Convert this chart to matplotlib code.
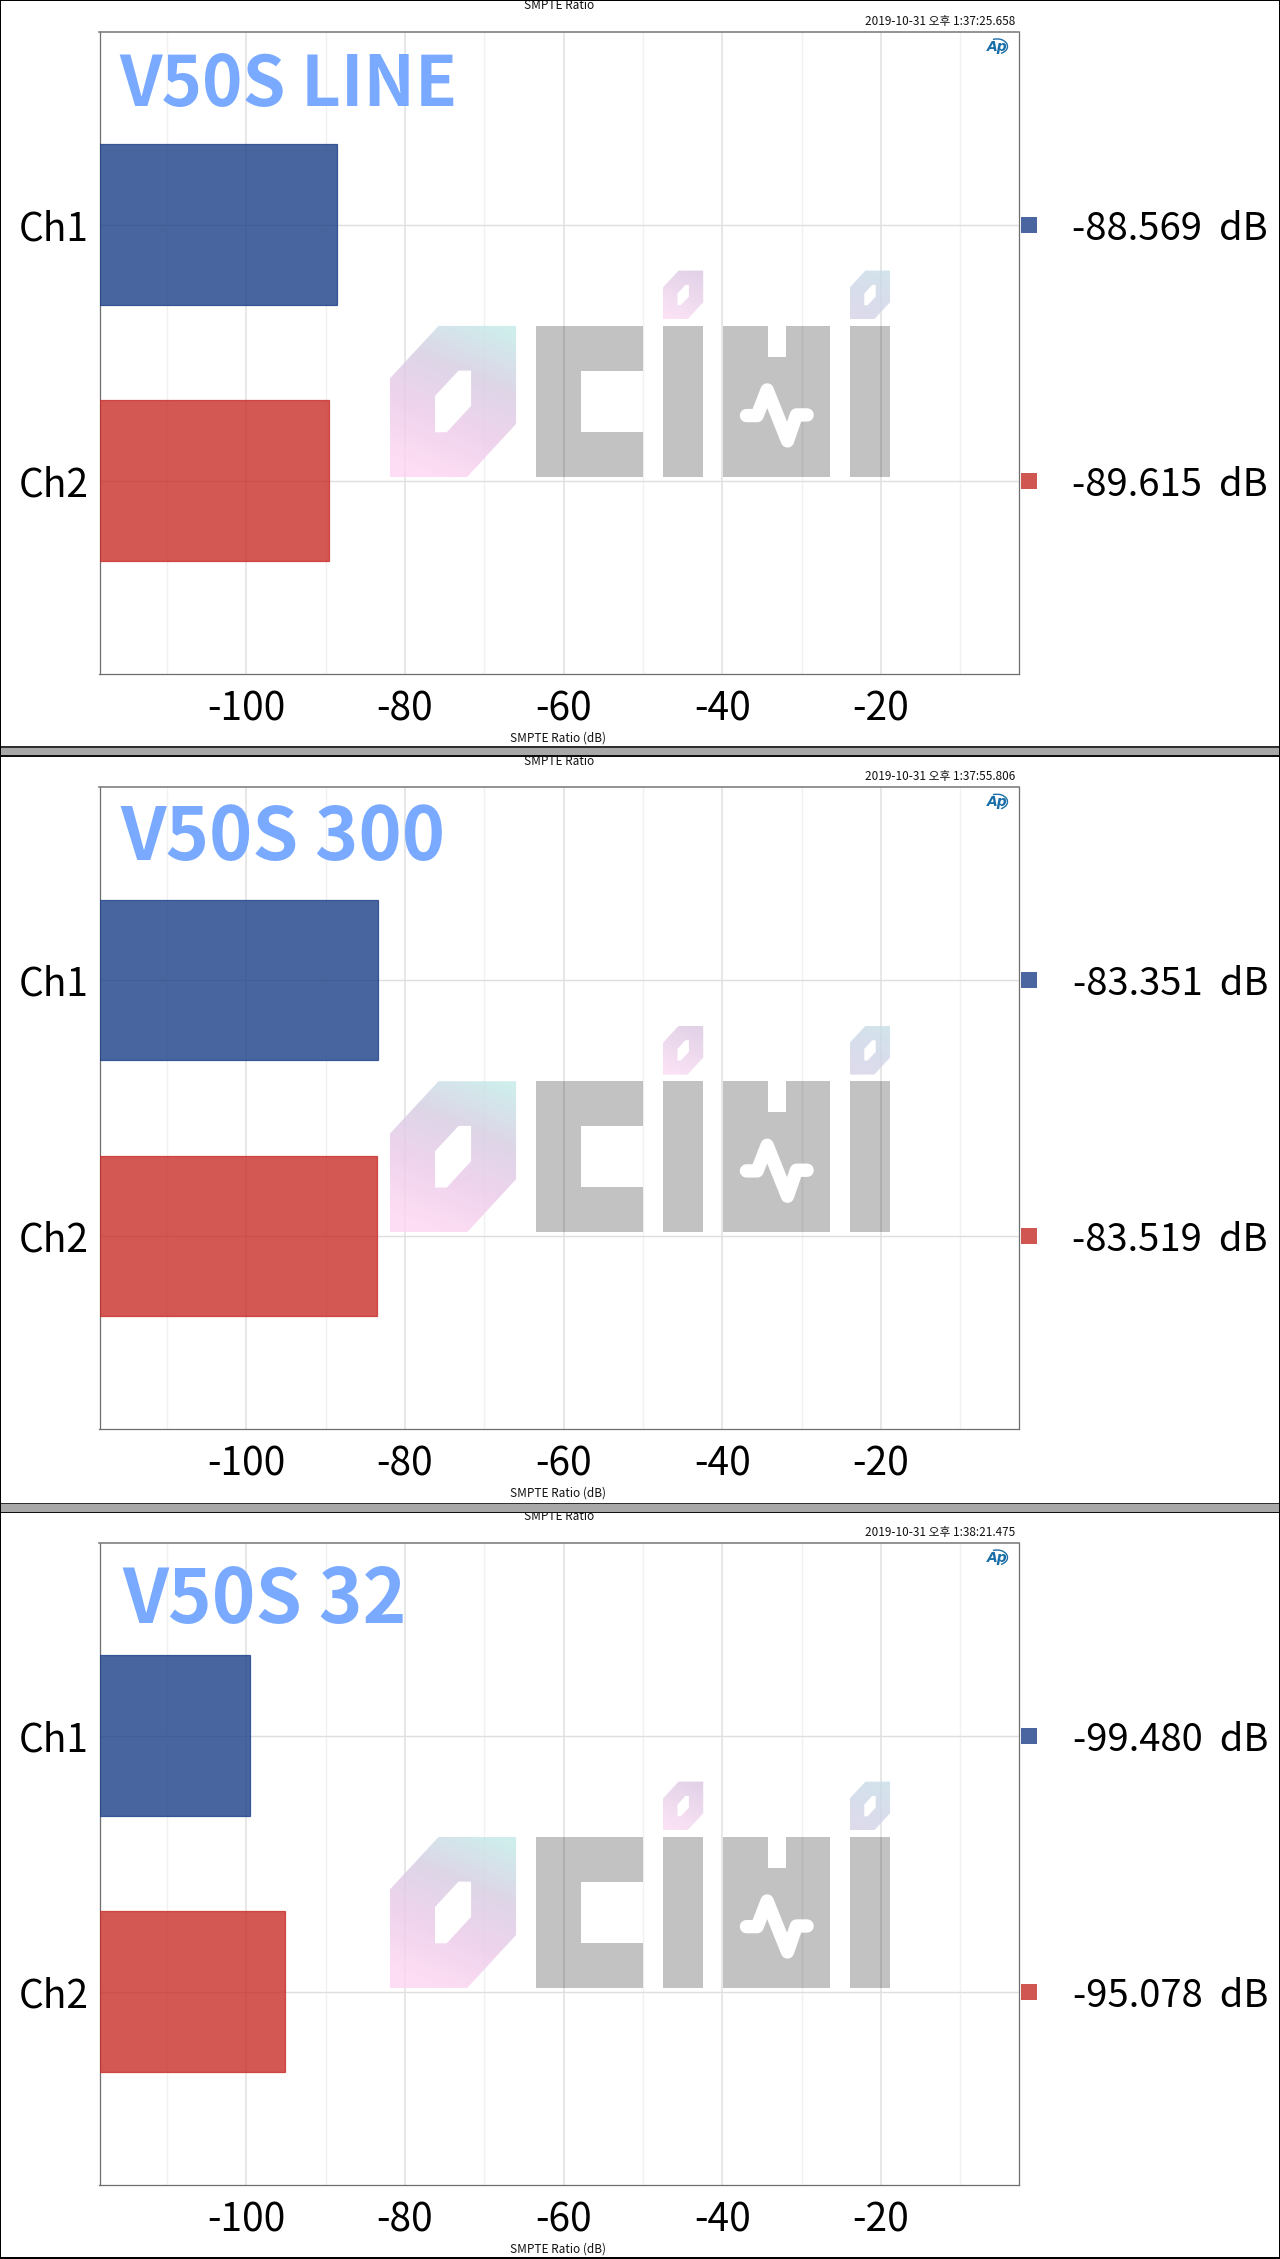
import numpy as np
import matplotlib
matplotlib.use('Agg')
from matplotlib import pyplot as plt
from matplotlib.path import Path
from matplotlib.patches import PathPatch, Rectangle, Arc

W, H = 1280, 2259

panel_names = ['V50S LINE', 'V50S 300', 'V50S 32']
timestamps = ['2019-10-31 오후 1:37:25.658', '2019-10-31 오후 1:37:55.806', '2019-10-31 오후 1:38:21.475']
channels = ['Ch1', 'Ch2']
ch1_values = [-88.569, -83.351, -99.480]
ch2_values = [-89.615, -83.519, -95.078]
major_ticks = [-100, -80, -60, -40, -20]
tick_labels = ['-100', '-80', '-60', '-40', '-20']
minor_ticks = [-110, -90, -70, -50, -30, -10]
x_limits = (-118.5, -2.6)
y_limits = (1.755, -0.753)

panel_offsets = [0, 755.3, 1511]
title_pos = [(119, 106), (120, 860 - 755.3), (122, 1623 - 1511)]
title_size = [49.5, 53, 53.5]

blue = '#1b3f87'
red = '#c82d28'
blue_mark = '#4a659f'
red_mark = '#d05652'
font = 'Noto Sans CJK KR'

plt.rcParams['font.family'] = [font, 'DejaVu Sans']

fig = plt.figure(figsize=(12.8, 22.591), dpi=100, facecolor='white')

# overlay in pixel coordinates for everything that is not data
over = fig.add_axes([0, 0, 1, 1], zorder=5)
over.patch.set_alpha(0)
over.axis('off')


def wm_pts(pts, dy):
    # watermark outlines measured from a zoomed crop
    return [(360 + x / 2.8, 250 + y / 3 + dy) for x, y in pts]


def shape_path(outer, hole, dy):
    verts, codes = [], []
    for pts in [outer, hole[::-1] if hole else None]:
        if pts is None:
            continue
        p = wm_pts(pts, dy)
        verts += p + [p[0]]
        codes += [Path.MOVETO] + [Path.LINETO] * (len(p) - 1) + [Path.CLOSEPOLY]
    return Path(verts, codes)


def gradient_fill(path, stops, alpha=0.8):
    bb = path.get_extents()
    yy, xx = np.mgrid[0:1:80j, 0:1:80j]
    t = np.clip((1 - xx) * 0.3 + yy * 0.85 - 0.05, 0, 1)
    pos = np.linspace(0, 1, len(stops))
    img = np.zeros((80, 80, 4))
    for i in range(3):
        c = np.interp(t, pos, [s[i] for s in stops]) / 255
        img[..., i] = np.clip((c - (1 - alpha)) / alpha, 0, 1)
    img[..., 3] = alpha
    im = over.imshow(img, extent=(bb.x0, bb.x1, bb.y1, bb.y0), aspect='auto',
                     interpolation='bilinear', zorder=2)
    patch = PathPatch(path, fc='none', ec='none', transform=over.transData)
    over.add_patch(patch)
    im.set_clip_path(patch)


o_outer = [(84, 385), (220, 228), (437, 228), (437, 522), (300, 681), (84, 681)]
o_hole = [(210, 438), (276, 362), (311, 362), (311, 468), (243, 547), (210, 547)]
c_shape = [(493, 228), (793, 228), (793, 362), (619, 362), (619, 546), (793, 546), (793, 681), (493, 681)]
i_shape = [(848, 228), (961, 228), (961, 681), (848, 681)]
n_shape = [(1016, 228), (1141, 228), (1141, 320), (1193, 320), (1193, 228), (1317, 228), (1317, 681), (1016, 681)]
dot_outer = [(848, 113), (892, 62), (961, 62), (961, 157), (917, 208), (848, 208)]
dot_hole = [(889, 131), (911, 105), (921, 105), (921, 140), (898, 166), (889, 166)]
wave = [(1082, 497), (1112, 497), (1140, 420), (1197, 573), (1222, 495), (1252, 495)]
i2_shift = 523

for k, name in enumerate(panel_names):
    dy = panel_offsets[k]
    ax = fig.add_axes([99.5 / W, 1 - (674 + dy) / H, 919.5 / W, 642 / H], zorder=1)
    ax.set_xlim(*x_limits)
    ax.set_ylim(*y_limits)
    ax.set_axisbelow(True)

    ax.set_xticks(major_ticks)
    ax.set_xticklabels(tick_labels)
    ax.set_xticks(minor_ticks, minor=True)
    ax.set_yticks([0, 1])
    ax.set_yticklabels(channels)
    ax.tick_params(axis='both', which='both', length=0)
    ax.tick_params(axis='x', labelsize=28, pad=11)
    ax.tick_params(axis='y', labelsize=28, pad=7.5)
    ax.grid(True, axis='x', which='major', color='#e0e0e0', lw=1.1)
    ax.grid(True, axis='x', which='minor', color='#f1f1f1', lw=1.0)
    ax.grid(True, axis='y', which='major', color='#dedede', lw=1.0)

    for sp in ax.spines.values():
        sp.set_color('#6e6e6e')
        sp.set_linewidth(0.9)
    ax.spines['top'].set_linewidth(1.2)
    ax.spines['top'].set_color('#808080')

    values = [ch1_values[k], ch2_values[k]]
    left = x_limits[0]
    ax.barh(0, values[0] - left, left=left, height=0.627, color=blue, alpha=0.8,
            edgecolor=blue, lw=0.9, zorder=3)
    ax.barh(1, values[1] - left, left=left, height=0.627, color=red, alpha=0.8,
            edgecolor=red, lw=0.9, zorder=3)

    trans = ax.get_yaxis_transform()
    for y, v, mc in zip([0, 1], values, [blue_mark, red_mark]):
        ax.plot([1.0114], [y], 's', color=mc, ms=11, mew=0, transform=trans, clip_on=False)
        ax.text(1.2708, y, f'{v:.3f}  dB', transform=trans, ha='right', va='center_baseline',
                fontsize=27.5, color='black', clip_on=False)

    # texts around the plot
    tx, ty = title_pos[k]
    over.text(tx, ty + dy, name, fontsize=title_size[k], fontweight='bold', color='#79aaff',
              ha='left', va='baseline', zorder=4)
    over.text(559, 9.3 + dy, 'SMPTE Ratio', fontsize=8.5, ha='center', va='baseline', color='#111111', zorder=4)
    over.text(558, 741 + dy, 'SMPTE Ratio (dB)', fontsize=8.5, ha='center', va='baseline', color='#111111', zorder=4)
    over.text(1015.5, 25 + dy, timestamps[k], fontsize=8.5, ha='right', va='baseline', color='#111111', zorder=4)

    # AP badge
    over.text(997, 51 + dy, 'Ap', fontsize=10, fontweight='bold', style='italic', color='#1a6fa8',
              family='DejaVu Sans', ha='center', va='baseline', zorder=4)
    over.add_patch(Arc((997, 46.5 + dy), 21, 15, theta1=-120, theta2=60, color='#1a6fa8', lw=1.0, zorder=4))

    # watermark
    gradient_fill(shape_path(o_outer, o_hole, dy),
                  [(207, 238, 236), (222, 214, 232), (240, 212, 238), (254, 222, 244)])
    gradient_fill(shape_path(dot_outer, dot_hole, dy),
                  [(226, 210, 232), (238, 218, 238), (251, 226, 245)])
    shifted_o = [(x + i2_shift, y) for x, y in dot_outer]
    shifted_h = [(x + i2_shift, y) for x, y in dot_hole]
    gradient_fill(shape_path(shifted_o, shifted_h, dy),
                  [(210, 228, 236), (216, 222, 236), (222, 220, 236)])
    for shp in [c_shape, i_shape, n_shape, [(x + i2_shift, y) for x, y in i_shape]]:
        over.add_patch(PathPatch(shape_path(shp, None, dy), fc='black', ec='none', alpha=0.24, zorder=2))
    wx, wy = zip(*wm_pts(wave, dy))
    over.plot(wx, wy, color='white', lw=9.6, solid_capstyle='round', solid_joinstyle='round', zorder=3)

# window frames and the grey strips between the screenshots
for top in [746.3, 1502.7]:
    over.add_patch(Rectangle((0, top), W, 10, fc='#a8a8a8', ec='none', zorder=6))
    over.add_patch(Rectangle((0, top), W, 1.3, fc='#303030', ec='none', zorder=7))
    over.add_patch(Rectangle((0, top + 9), W, 1.3, fc='#101010', ec='none', zorder=7))
over.add_patch(Rectangle((0, 0), W, 1.3, fc='black', ec='none', zorder=7))
over.add_patch(Rectangle((0, H - 1.5), W, 1.5, fc='black', ec='none', zorder=7))
over.add_patch(Rectangle((0, 0), 1.3, H, fc='black', ec='none', zorder=7))
over.add_patch(Rectangle((W - 1.3, 0), 1.3, H, fc='black', ec='none', zorder=7))

over.set_xlim(0, W)
over.set_ylim(H, 0)

fig.savefig('out.png', dpi=100)
